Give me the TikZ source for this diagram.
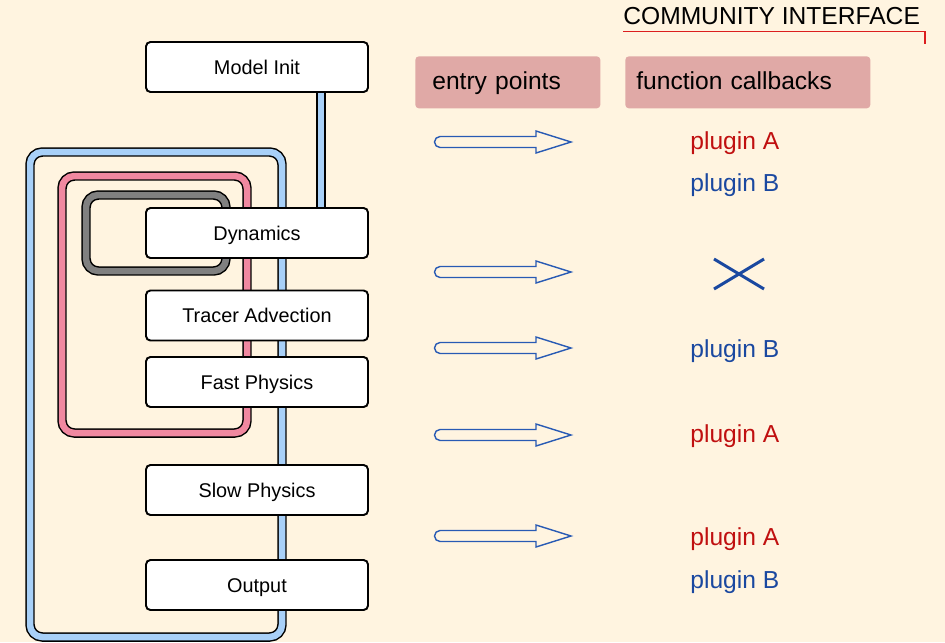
\documentclass[tikz,border=0pt]{standalone}
\usepackage{fontspec}
\setmainfont{Liberation Sans}
\usetikzlibrary{calc}
\definecolor{bg}{RGB}{255,244,224}
\definecolor{loopblue}{RGB}{168,208,248}
\definecolor{looppink}{RGB}{240,136,160}
\definecolor{loopgrey}{RGB}{128,128,128}
\definecolor{headred}{RGB}{224,169,166}
\definecolor{pluginred}{RGB}{192,16,16}
\definecolor{pluginblue}{RGB}{26,72,160}
\definecolor{arrowblue}{RGB}{40,90,180}
\definecolor{titlered}{RGB}{220,30,30}

\begin{document}
\begin{tikzpicture}
[x=0.02cm, y=-0.02cm]
\tikzstyle{stage}=[draw, fill=white, line width=1.1pt, rounded corners=2.5pt, minimum width=4.44cm, minimum height=1cm, text height=8.1pt, text depth=0pt, font=\fontsize{11.3}{13}\selectfont]
\tikzstyle{loop}=[draw=black, line width=0.85pt, double distance=3.7pt, rounded corners=7pt]
\tikzstyle{head}=[fill=headred, rounded corners=2pt, anchor=north west, minimum height=1.04cm, text height=10pt, text depth=2pt, font=\fontsize{14}{17}\selectfont]
\tikzstyle{plugin}=[anchor=base west, inner sep=0pt, font=\fontsize{14}{17}\selectfont]
\tikzstyle{entry}=[draw=arrowblue, line width=0.8pt]
\fill[bg] (0,0) rectangle (945,642);
\useasboundingbox (0,0) rectangle (945,642);

\draw[loop, double=loopblue] (30,152) rectangle (282,637);
\draw[loop, double=looppink] (62,176) rectangle (247,433);
\draw[loop, double=loopgrey] (86,195) rectangle (226,271);

\node[stage] (init) at (257,67) {Model Init};
\node[stage] (dyn) at (257,233) {Dynamics};
\node[stage] (tracer) at (257,315.5) {Tracer Advection};
\node[stage] (fast) at (257,382) {Fast Physics};
\node[stage] (slow) at (257,490) {Slow Physics};
\node[stage] (output) at (257,585) {Output};
\draw[loop, double=loopblue] ($(init.south east)+(-48,0)$) -- ($(dyn.north east)+(-48,0)$);

\node[head, inner xsep=0.34cm, text width=3.02cm] (entries) at (415,56) {entry points};
\node[head, inner xsep=0.22cm, text width=4.46cm] (callbacks) at (625,56) {function callbacks};

\node[plugin] (title) at (623,25) {COMMUNITY INTERFACE};
\draw[color=titlered, line width=1pt] ($(title.south west)+(0,6)$) -- ($(title.south east)+(5,6)$) -- ++(0,12);

\foreach \y in {142,272,348,435,536}
  \draw[entry] (536,\y-5.5) -- (440,\y-5.5) arc[start angle=90, end angle=270, radius=0.11cm] -- (536,\y+5.5) -- (536,\y+11) -- (571,\y) -- (536,\y-11) -- cycle;

\node[plugin, text=pluginred] (a1) at (690,149) {plugin A};
\node[plugin, text=pluginblue] (b1) at (690,191) {plugin B};
\draw[pluginblue, line width=1.7pt] (714,259) -- (764,289) (714,289) -- (764,259);
\node[plugin, text=pluginblue] (b2) at (690,357) {plugin B};
\node[plugin, text=pluginred] (a2) at (690,442) {plugin A};
\node[plugin, text=pluginred] (a3) at (690,545) {plugin A};
\node[plugin, text=pluginblue] (b3) at (690,588) {plugin B};
\end{tikzpicture}
\end{document}
